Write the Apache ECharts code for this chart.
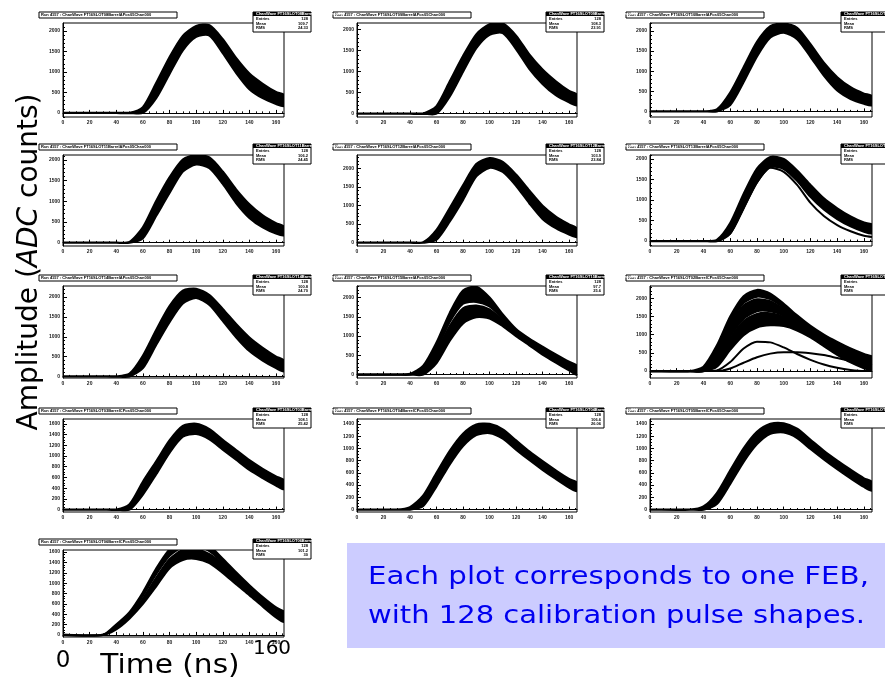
<!DOCTYPE html>
<html>
<head>
<meta charset="utf-8">
<title>Calibration pulse shapes</title>
<script src="https://cdn.jsdelivr.net/npm/echarts@6/dist/echarts.min.js"></script>
<style>
  html, body { margin: 0; padding: 0; background: #fff; }
  #chart { width: 885px; height: 685px; }
</style>
</head>
<body>
<div id="chart"></div>
<script>
// sample times (ns) shared by every curve
const times = [0, 30, 40, 50, 60, 70, 80, 90, 100, 110, 120, 130, 140, 150, 160, 166];
const timeTicks = [0, 20, 40, 60, 80, 100, 120, 140, 160];
const ampTicks2000 = [0, 500, 1000, 1500, 2000];
const ampTicks1600 = [0, 200, 400, 600, 800, 1000, 1200, 1400, 1600];

// envelope of the 128 pulses in each plot (upper / lower edge, ADC counts)
const p1Hi = [0, 0, 0, 0, 140, 730, 1360, 1880, 2120, 2140, 1800, 1340, 960, 710, 510, 440];
const p1Lo = [0, 0, 0, 0, 0, 360, 950, 1530, 1860, 1890, 1460, 980, 580, 360, 220, 170];
const p2Hi = [0, 0, 0, 0, 180, 770, 1370, 1890, 2130, 2150, 1860, 1410, 1050, 770, 540, 450];
const p2Lo = [0, 0, 0, 0, 0, 410, 1000, 1560, 1880, 1920, 1540, 1070, 710, 440, 270, 200];
const p3Hi = [0, 0, 0, 50, 470, 1100, 1730, 2120, 2190, 2080, 1670, 1210, 850, 600, 440, 380];
const p3Lo = [0, 0, 0, 0, 160, 730, 1370, 1840, 1960, 1800, 1360, 890, 520, 310, 190, 150];
const p4Hi = [0, 0, 0, 20, 370, 1010, 1580, 2010, 2120, 2060, 1720, 1290, 930, 660, 470, 390];
const p4Lo = [0, 0, 0, 0, 110, 650, 1200, 1720, 1890, 1800, 1420, 960, 600, 370, 220, 180];
const p5Hi = [0, 0, 0, 10, 340, 930, 1540, 2110, 2270, 2170, 1830, 1400, 990, 700, 490, 380];
const p5Lo = [0, 0, 0, 0, 80, 570, 1150, 1780, 2010, 1900, 1530, 1060, 640, 390, 220, 150];
const p6Hi = [0, 0, 0, 30, 440, 1150, 1770, 2050, 2000, 1720, 1370, 1040, 800, 600, 450, 400];
const p6Lo = [0, 0, 0, 0, 190, 810, 1440, 1810, 1760, 1470, 1080, 770, 540, 360, 230, 190];
const p6Stray = [0, 0, 0, 0, 180, 800, 1430, 1790, 1690, 1370, 930, 610, 390, 240, 130, 100];
const p7Hi = [0, 0, 0, 70, 520, 1170, 1770, 2160, 2210, 2050, 1700, 1320, 980, 720, 500, 400];
const p7Lo = [0, 0, 0, 0, 210, 800, 1370, 1840, 1980, 1800, 1400, 990, 640, 400, 210, 130];
const p8Hi = [0, 0, 20, 230, 830, 1600, 2180, 2280, 2000, 1560, 1180, 930, 720, 520, 330, 230];
const p8Mid = [0, 0, 0, 140, 660, 1370, 1840, 1890, 1770, 1450, 1120, 880, 650, 450, 260, 160];
const p8Mid2 = [0, 0, 0, 100, 600, 1260, 1720, 1790, 1690, 1400, 1090, 850, 620, 410, 220, 110];
const p8Lo = [0, 0, 0, 0, 300, 880, 1330, 1490, 1460, 1260, 1000, 760, 520, 310, 110, -10];
const p9A1 = [0, 0, 120, 700, 1500, 2060, 2230, 2130, 1850, 1530, 1240, 1000, 800, 620, 470, 400];
const p9A2 = [0, 0, 60, 560, 1320, 1880, 2050, 1980, 1740, 1450, 1180, 950, 760, 580, 430, 360];
const p9B1 = [0, 0, 40, 500, 1250, 1800, 1970, 1920, 1700, 1420, 1160, 935, 745, 565, 415, 345];
const p9B2 = [0, 0, 0, 330, 960, 1440, 1650, 1650, 1530, 1300, 1070, 850, 650, 460, 300, 230];
const p9C1 = [0, 0, 0, 290, 900, 1370, 1570, 1590, 1490, 1270, 1050, 830, 630, 440, 280, 210];
const p9C2 = [0, 0, 0, 120, 590, 990, 1200, 1260, 1240, 1120, 930, 690, 450, 240, 80, 20];
const p9Low1 = [0, 0, 0, 20, 250, 620, 810, 790, 650, 470, 310, 180, 90, 30, 0, 0];
const p9Low2 = [0, 0, 0, 0, 70, 230, 380, 480, 520, 520, 490, 440, 360, 280, 200, 160];
const p10Hi = [0, 0, 0, 100, 520, 900, 1290, 1560, 1600, 1500, 1300, 1110, 920, 760, 620, 550];
const p10Lo = [0, 0, 0, 0, 280, 660, 1060, 1360, 1410, 1310, 1120, 930, 740, 590, 450, 380];
const p11Hi = [0, 0, 40, 230, 600, 960, 1240, 1390, 1400, 1310, 1130, 950, 790, 640, 500, 440];
const p11Lo = [0, 0, 0, 60, 380, 740, 1040, 1220, 1250, 1160, 980, 810, 650, 500, 360, 300];
const p12Hi = [0, 0, 50, 270, 640, 1000, 1270, 1400, 1410, 1320, 1140, 960, 800, 650, 510, 450];
const p12Lo = [0, 0, 0, 90, 420, 780, 1070, 1240, 1260, 1170, 990, 820, 660, 510, 370, 310];
const p13Top = [0, 0, 200, 440, 820, 1280, 1650, 1830, 1840, 1720, 1470, 1210, 960, 730, 530, 450];
const p13TopLo = [0, 0, 170, 400, 760, 1180, 1530, 1700, 1720, 1620, 1400, 1160, 920, 690, 490, 410];
const p13Mid = [0, 0, 150, 370, 700, 1100, 1460, 1640, 1650, 1560, 1370, 1130, 890, 660, 450, 370];
const p13Lo = [0, 0, 110, 320, 600, 940, 1290, 1450, 1470, 1390, 1200, 980, 770, 550, 340, 250];

const panels = [
  { bands: [[p1Hi, p1Lo]], lines: [], yMin: -100, yMax: 2195, ticks: ampTicks2000, title: "Run 4157 : ChanWave FT16SLOT08BarrelAPos05Chan000", stats: ["128", "109.7", "24.33"] },
  { bands: [[p2Hi, p2Lo]], lines: [], yMin: -80, yMax: 2160, ticks: ampTicks2000, title: "Run 4157 : ChanWave FT16SLOT09BarrelAPos05Chan000", stats: ["128", "108.3", "23.91"] },
  { bands: [[p3Hi, p3Lo]], lines: [], yMin: -140, yMax: 2200, ticks: ampTicks2000, title: "Run 4157 : ChanWave FT16SLOT10BarrelAPos05Chan000", stats: ["128", "104.2", "24.06"] },
  { bands: [[p4Hi, p4Lo]], lines: [], yMin: -80, yMax: 2120, ticks: ampTicks2000, title: "Run 4157 : ChanWave FT16SLOT11BarrelAPos05Chan000", stats: ["128", "106.2", "24.45"] },
  { bands: [[p5Hi, p5Lo]], lines: [], yMin: -90, yMax: 2355, ticks: ampTicks2000, title: "Run 4157 : ChanWave FT16SLOT12BarrelAPos05Chan000", stats: ["128", "103.9", "23.84"] },
  { bands: [[p6Hi, p6Lo]], lines: [p6Stray], yMin: -120, yMax: 2100, ticks: ampTicks2000, title: "Run 4157 : ChanWave FT16SLOT13BarrelAPos05Chan000", stats: ["128", "101.5", "24.12"] },
  { bands: [[p7Hi, p7Lo]], lines: [], yMin: -40, yMax: 2280, ticks: ampTicks2000, title: "Run 4157 : ChanWave FT16SLOT14BarrelAPos05Chan000", stats: ["128", "100.8", "24.70"] },
  { bands: [[p8Hi, p8Mid], [p8Mid2, p8Lo]], lines: [], yMin: -90, yMax: 2300, ticks: ampTicks2000, title: "Run 4157 : ChanWave FT16SLOT15BarrelAPos05Chan000", stats: ["128", "97.7", "25.6"] },
  { bands: [[p9A1, p9A2], [p9B1, p9B2], [p9C1, p9C2]], lines: [p9Low1, p9Low2], yMin: -190, yMax: 2340, ticks: ampTicks2000, title: "Run 4157 : ChanWave FT16SLOT02BarrelCPos05Chan000", stats: ["128", "95.9", "27.2"] },
  { bands: [[p10Hi, p10Lo]], lines: [], yMin: -45, yMax: 1690, ticks: ampTicks1600, title: "Run 4157 : ChanWave FT16SLOT03BarrelCPos05Chan000", stats: ["128", "108.1", "25.42"] },
  { bands: [[p11Hi, p11Lo]], lines: [], yMin: -40, yMax: 1480, ticks: ampTicks1600, title: "Run 4157 : ChanWave FT16SLOT04BarrelCPos05Chan000", stats: ["128", "106.6", "26.06"] },
  { bands: [[p12Hi, p12Lo]], lines: [], yMin: -40, yMax: 1480, ticks: ampTicks1600, title: "Run 4157 : ChanWave FT16SLOT05BarrelCPos05Chan000", stats: ["128", "105.9", "25.88"] },
  { bands: [[p13Top, p13TopLo], [p13Mid, p13Lo]], lines: [], yMin: -40, yMax: 1640, ticks: ampTicks1600, title: "Run 4157 : ChanWave FT16SLOT06BarrelCPos05Chan000", stats: ["128", "101.2", "30"] }
];

// plot frames on the page
const cols = [{ left: 63, width: 221 }, { left: 357, width: 220 }, { left: 650, width: 222 }];
const rows = [{ top: 23, height: 94 }, { top: 155, height: 91 }, { top: 286, height: 92 }, { top: 419, height: 93 }, { top: 550, height: 87 }];
const layout = panels.map((p, i) => ({ ...cols[i % 3], ...rows[Math.floor(i / 3)] }));

const tinyFont = 'bold 4px "Liberation Sans"';
const black = { color: "#000", width: 1 };
const grids = [], xAxes = [], yAxes = [], series = [], graphics = [];

function stepList(min, max, step) {
  const out = [];
  for (let v = Math.ceil(min / step) * step; v <= max; v += step) out.push(v);
  return out;
}

panels.forEach((p, i) => {
  const r = layout[i];
  grids.push({ left: r.left, top: r.top, width: r.width, height: r.height, show: true, borderColor: "#000", borderWidth: 1 });

  // major axes (labels + long ticks), then minor-tick axes
  xAxes.push({
    gridIndex: i, type: "value", min: 0, max: 166,
    axisLine: { lineStyle: black },
    axisTick: { inside: true, length: 3, customValues: timeTicks, lineStyle: black },
    axisLabel: { customValues: timeTicks, formatter: (v) => String(v), fontSize: 5, fontWeight: "bold", color: "#222", margin: 3, fontFamily: "Liberation Sans" },
    splitLine: { show: false }
  });
  xAxes.push({
    gridIndex: i, type: "value", min: 0, max: 166, position: "bottom",
    axisLine: { show: false },
    axisTick: { inside: true, length: 1.5, customValues: stepList(0, 166, 5), lineStyle: black },
    axisLabel: { show: false }, splitLine: { show: false }
  });
  const minorStep = p.ticks[1] - p.ticks[0] === 500 ? 100 : 50;
  yAxes.push({
    gridIndex: i, type: "value", min: p.yMin, max: p.yMax, position: "left",
    axisLine: { show: true, lineStyle: black },
    axisTick: { inside: true, length: 4, customValues: p.ticks, lineStyle: black },
    axisLabel: { customValues: p.ticks, formatter: (v) => String(v), fontSize: 5, fontWeight: "bold", color: "#222", margin: 3, fontFamily: "Liberation Sans" },
    splitLine: { show: false }
  });
  yAxes.push({
    gridIndex: i, type: "value", min: p.yMin, max: p.yMax, position: "left",
    axisLine: { show: false },
    axisTick: { inside: true, length: 2, customValues: stepList(p.yMin, p.yMax, minorStep), lineStyle: black },
    axisLabel: { show: false }, splitLine: { show: false }
  });

  p.bands.forEach(([upper, lower]) => {
    series.push({
      type: "custom", coordinateSystem: "cartesian2d",
      xAxisIndex: 2 * i, yAxisIndex: 2 * i,
      data: [[0, 0]], silent: true,
      renderItem: (params, api) => {
        const pts = times.map((t, k) => api.coord([t, upper[k]]));
        for (let k = times.length - 1; k >= 0; k--) pts.push(api.coord([times[k], lower[k]]));
        const cs = params.coordSys;
        return {
          type: "polygon",
          shape: { points: pts, smooth: 0.25 },
          style: { fill: "#000", stroke: "#000", lineWidth: 2.2 },
          clipPath: { type: "rect", shape: { x: cs.x, y: cs.y, width: cs.width, height: cs.height } }
        };
      }
    });
  });
  p.lines.forEach((arr) => {
    series.push({
      type: "line", xAxisIndex: 2 * i, yAxisIndex: 2 * i,
      data: times.map((t, k) => [t, arr[k]]),
      smooth: 0.25, symbol: "none", silent: true,
      lineStyle: { color: "#000", width: 2 }
    });
  });

  // histogram title box
  const ty = r.top - 11;
  graphics.push(
    { type: "rect", z: 100, shape: { x: r.left - 24, y: ty, width: 138, height: 6 }, style: { fill: "#fff", stroke: "#000", lineWidth: 1 } },
    { type: "text", z: 101, style: { x: r.left - 22, y: ty + 3, text: p.title, font: tinyFont, fill: "#000", verticalAlign: "middle" } }
  );
  // stats box
  const sx = r.left + r.width - 31;
  graphics.push(
    { type: "rect", z: 100, shape: { x: sx, y: ty, width: 58, height: 20 }, style: { fill: "#fff", stroke: "#000", lineWidth: 1 } },
    { type: "rect", z: 101, shape: { x: sx, y: ty, width: 58, height: 4 }, style: { fill: "#000" } },
    { type: "text", z: 102, style: { x: sx + 3, y: ty + 2, text: p.title.slice(11), font: tinyFont, fill: "#fff", verticalAlign: "middle" } }
  );
  ["Entries", "Mean", "RMS"].forEach((name, k) => {
    graphics.push(
      { type: "text", z: 101, style: { x: sx + 3, y: ty + 7 + k * 4.5, text: name, font: tinyFont, fill: "#000", verticalAlign: "middle" } },
      { type: "text", z: 101, style: { x: sx + 55, y: ty + 7 + k * 4.5, text: p.stats[k], font: tinyFont, fill: "#000", align: "right", verticalAlign: "middle" } }
    );
  });
});

// slide annotations
graphics.push(
  {
    type: "text", z: 100, x: 30, y: 262, rotation: Math.PI / 2,
    style: {
      text: "{n|Amplitude (}{i|ADC}{n| counts)}",
      align: "center", verticalAlign: "middle", fill: "#000",
      rich: { n: { font: '28px "DejaVu Sans"' }, i: { font: 'italic 28px "DejaVu Sans"' } }
    }
  },
  { type: "text", z: 100, style: { x: 63, y: 661, text: "0", font: '23px "DejaVu Sans"', fill: "#000", align: "center", verticalAlign: "middle" } },
  { type: "text", z: 100, x: 170, y: 666, scaleX: 1.14, style: { x: 0, y: 0, text: "Time (ns)", font: '26px "DejaVu Sans"', fill: "#000", align: "center", verticalAlign: "middle" } },
  { type: "text", z: 100, style: { x: 272, y: 649, text: "160", font: '20px "DejaVu Sans"', fill: "#000", align: "center", verticalAlign: "middle" } },
  { type: "rect", z: 99, shape: { x: 347, y: 543, width: 545, height: 105 }, style: { fill: "#ccccff" } },
  { type: "text", z: 100, x: 368, y: 577, scaleX: 1.17, style: { x: 0, y: 0, text: "Each plot corresponds to one FEB,", font: '25px "DejaVu Sans"', fill: "#0000f0", verticalAlign: "middle" } },
  { type: "text", z: 100, x: 368, y: 616, scaleX: 1.16, style: { x: 0, y: 0, text: "with 128 calibration pulse shapes.", font: '25px "DejaVu Sans"', fill: "#0000f0", verticalAlign: "middle" } }
);

const chart = echarts.init(document.getElementById("chart"), null, { renderer: "canvas" });
chart.setOption({
  backgroundColor: "#fff",
  animation: false,
  grid: grids,
  xAxis: xAxes,
  yAxis: yAxes,
  series,
  graphic: { elements: graphics }
});
</script>
</body>
</html>
